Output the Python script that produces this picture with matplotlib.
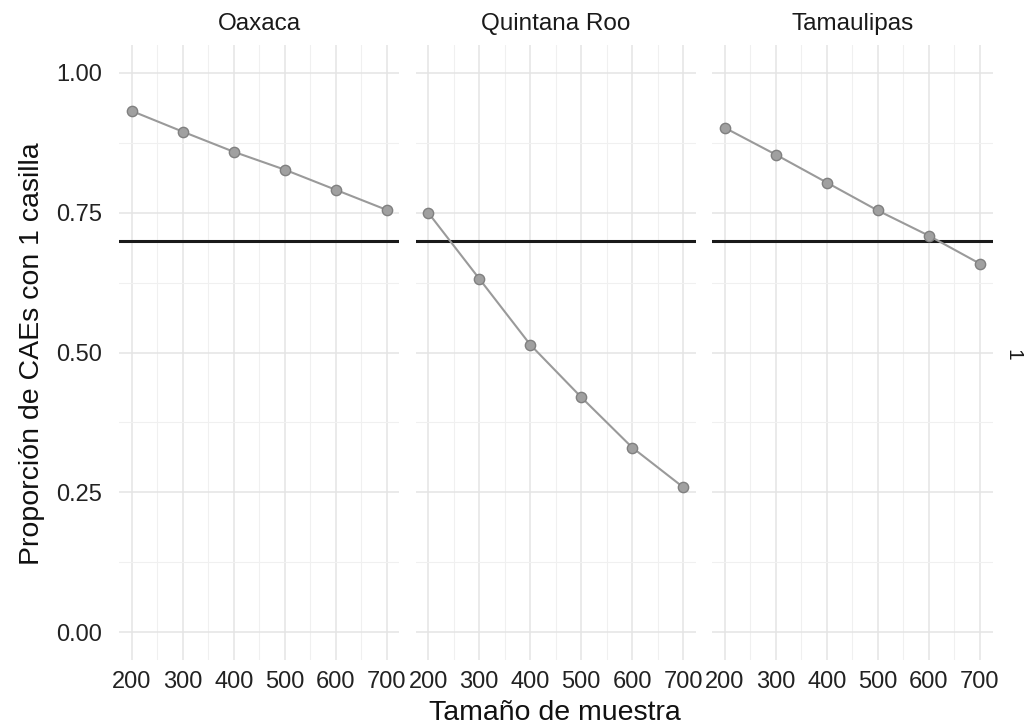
import matplotlib as mpl
import matplotlib.pyplot as plt
import numpy as np

mpl.use("Agg")
plt.rcParams["font.family"] = ["Liberation Sans", "DejaVu Sans"]

estados = ["Oaxaca", "Quintana Roo", "Tamaulipas"]
tamano = [200, 300, 400, 500, 600, 700]
oaxaca = [0.932, 0.895, 0.859, 0.827, 0.791, 0.755]
quintana_roo = [0.750, 0.632, 0.514, 0.420, 0.330, 0.259]
tamaulipas = [0.902, 0.854, 0.804, 0.754, 0.709, 0.659]
umbral = 0.70
fila = "1"

series = [oaxaca, quintana_roo, tamaulipas]

fig = plt.figure(figsize=(10.26, 7.25), dpi=100)
W, H = 1026, 725
left0, pw, gap = 119, 280.5, 16
top, bottom = 45, 660

for i, (estado, vals) in enumerate(zip(estados, series)):
    x0 = left0 + i * (pw + gap)
    ax = fig.add_axes([x0 / W, 1 - bottom / H, pw / W, (bottom - top) / H])
    ax.set_xlim(175, 725)
    ax.set_ylim(-0.05, 1.05)
    ax.set_xticks(tamano)
    ax.set_xticks(np.arange(250, 701, 100), minor=True)
    ax.set_yticks([0, 0.25, 0.5, 0.75, 1.0])
    ax.set_yticks([0.125, 0.375, 0.625, 0.875], minor=True)
    ax.grid(which="major", color="#e4e4e4", lw=1.1)
    ax.grid(which="minor", color="#f0f0f0", lw=0.8)
    ax.set_axisbelow(True)
    for s in ax.spines.values():
        s.set_visible(False)
    ax.tick_params(which="both", length=0, labelsize=17, colors="#222222")
    ax.tick_params(axis="x", pad=8)
    ax.tick_params(axis="y", pad=12)
    ax.set_xticklabels([str(t) for t in tamano])
    if i == 0:
        ax.set_yticklabels(["0.00", "0.25", "0.50", "0.75", "1.00"])
    else:
        ax.set_yticklabels([])
    ax.axhline(umbral, color="#1a1a1a", lw=2.2, zorder=2)
    ax.plot(tamano, vals, color="#9a9a9a", lw=1.5, zorder=3)
    ax.scatter(tamano, vals, s=55, color="#a0a0a0", edgecolor="#808080",
               linewidth=1.0, zorder=4)
    ax.set_title(estado, fontsize=17.5, color="#1a1a1a", pad=11)

fig.text(1013 / W, 1 - 355 / H, fila, rotation=-90, fontsize=15,
         color="#1a1a1a", ha="center", va="center")
fig.text(32 / W, 1 - 354 / H, "Proporción de CAEs con 1 casilla", rotation=90,
         fontsize=20.5, ha="center", va="center", color="#111111")
fig.text(555 / W, 1 - 713 / H, "Tamaño de muestra", fontsize=20.5,
         ha="center", va="center", color="#111111")

fig.savefig("out.png", dpi=100, facecolor="white")
